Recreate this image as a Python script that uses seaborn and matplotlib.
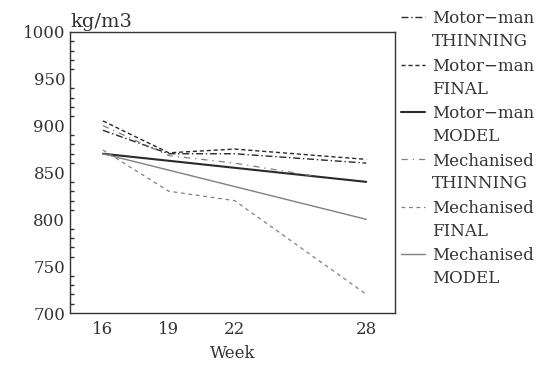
import matplotlib
matplotlib.use("Agg")
import matplotlib.pyplot as plt
import seaborn as sns
import pandas as pd

sns.set_theme(style="white")
plt.rcParams['font.family'] = ['DejaVu Serif']

weeks = [16, 19, 22, 28]
mm_thinning = [895, 870, 870, 860]
mm_final = [905, 871, 875, 864]
mm_model = [870, 862.5, 855, 840]
mech_thin_weeks = [16, 19, 22, 25.7]
mech_thinning = [900, 868, 860, 846]
mech_final = [874, 830, 820, 720]
mech_model = [870, 852.5, 835, 800]

labels = ["Motor\u2212man\nTHINNING", "Motor\u2212man\nFINAL", "Motor\u2212man\nMODEL",
          "Mechanised\nTHINNING", "Mechanised\nFINAL", "Mechanised\nMODEL"]

fig = plt.figure(figsize=(5.43, 3.67), dpi=100)
ax = fig.add_axes([0.129, 0.147, 0.598, 0.766])

dark = "#2a2a2a"
light = "#808080"
series = [
    (weeks, mm_thinning, dict(color=dark, lw=1.0, ls=(0, (5, 2, 1, 2)))),
    (weeks, mm_final, dict(color=dark, lw=1.0, ls=(0, (3, 2)))),
    (weeks, mm_model, dict(color=dark, lw=1.5, ls="-")),
    (mech_thin_weeks, mech_thinning, dict(color=light, lw=0.9, ls=(0, (5, 4, 1, 4)))),
    (weeks, mech_final, dict(color=light, lw=0.9, ls=(0, (3, 3)))),
    (weeks, mech_model, dict(color=light, lw=1.0, ls="-")),
]
for (x, y, st), lab in zip(series, labels):
    sns.lineplot(x=x, y=y, ax=ax, label=lab, linestyle=st["ls"], color=st["color"], linewidth=st["lw"])

ax.set_xlim(14.5, 29.3)
ax.set_ylim(700, 1000)
ax.set_xticks([16, 19, 22, 25, 28])
ax.set_xticklabels(["16", "19", "22", "", "28"])
ax.set_yticks([700, 750, 800, 850, 900, 950, 1000])
ax.set_yticks(range(700, 1001, 10), minor=True)
ax.tick_params(axis="both", which="both", direction="in", labelsize=12, colors="#333333",
               top=False, right=False)
ax.tick_params(axis="y", which="major", length=6)
ax.tick_params(axis="y", which="minor", length=3, left=True)
ax.tick_params(axis="x", which="major", length=4, pad=6)
for s in ax.spines.values():
    s.set_color("#333333")
    s.set_linewidth(1.0)
ax.set_xlabel("Week", fontsize=12, color="#333333", labelpad=5)
ax.set_ylabel("")
ax.text(0.0, 1.003, "kg/m3", transform=ax.transAxes, ha="left", va="bottom", fontsize=14, color="#333333")

leg = ax.legend(loc="upper left", bbox_to_anchor=(1.0, 1.1), frameon=False, fontsize=12,
                handlelength=1.4, handletextpad=0.42, labelspacing=0.45, borderaxespad=0)
for t in leg.get_texts():
    t.set_color("#333333")
    t.set_linespacing(1.45)
fig.canvas.draw()
shift = 10.0
for h in leg.legend_handles:
    yd = h.get_ydata()
    h.set_ydata([v + shift for v in yd])

fig.savefig("out.png", dpi=100)
